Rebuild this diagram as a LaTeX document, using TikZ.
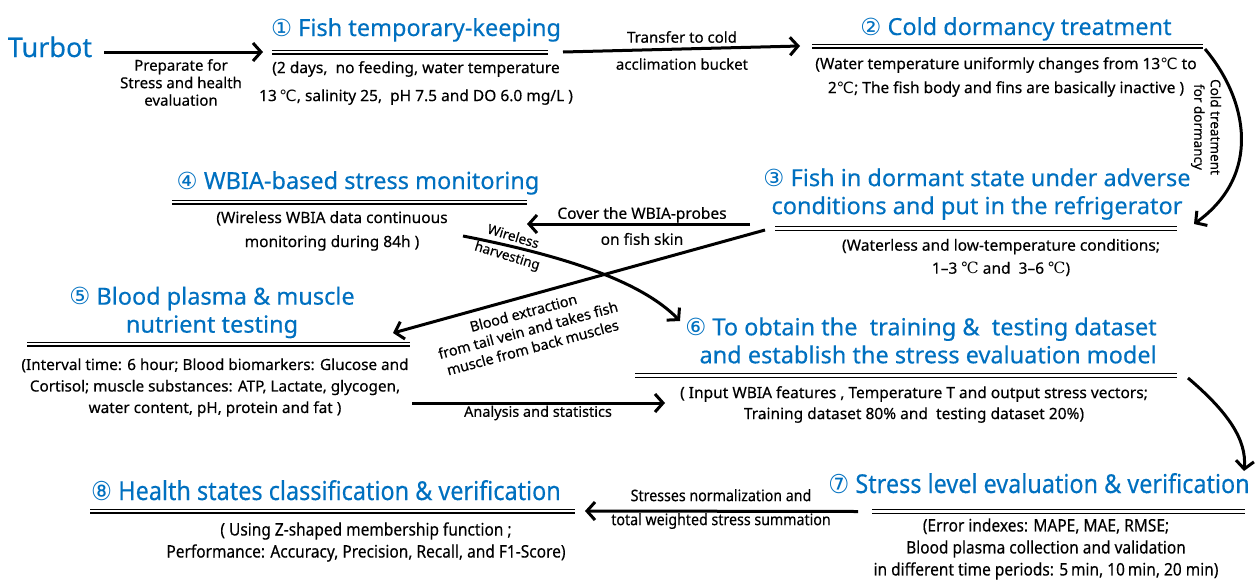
\documentclass[tikz,border=0pt]{standalone}
\usepackage{fontspec}
\setmainfont{Noto Sans}[FakeBold=0.35]
\newfontfamily\symf{DejaVu Sans}
\newfontfamily\serf{DejaVu Serif}
\newfontfamily\condf{Noto Sans}[FakeStretch=0.9,FakeBold=0.3]
\newfontfamily\condsym{DejaVu Sans}[FakeStretch=0.9]
\usetikzlibrary{arrows.meta}
\definecolor{tblue}{RGB}{0,112,192}
\newcommand\cnum[1]{{\symf #1}}
\newcommand\degc{{\symf ℃}}
\newcommand\degs{{\serf ℃}}
\begin{document}
\begin{tikzpicture}[x=1pt,y=-1pt,
  title/.style={text=tblue,font=\fontsize{23.5}{28}\selectfont,inner sep=0pt,align=center},
  ctitle/.style={text=tblue,font=\condf\fontsize{26}{28}\selectfont,inner sep=0pt,align=center},
  desc/.style={inner sep=0pt,align=center},
  elab/.style={inner sep=0pt,align=center},
  arr/.style={line width=3pt,-{Straight Barb[length=8pt,width=18pt]}},
  uline/.style={double,double distance=2.2pt,line width=1.4pt}]
\useasboundingbox (0,0) rectangle (1259,579);

% ---- titles
\node[title,font=\fontsize{27}{30}\selectfont,anchor=base] (t0) at (50,57) {Turbot};
\node[title,anchor=base] (h1) at (416,36) {\cnum{①} Fish temporary-keeping};
\node[title,anchor=base] (h2) at (1016,35) {\cnum{②} Cold dormancy treatment};
\node[title] (h3) at (977,194) {\cnum{③} Fish in dormant state under adverse\\conditions and put in the refrigerator};
\node[title,anchor=base] (h4) at (358,189) {\cnum{④} WBIA-based stress monitoring};
\node[title] (h5) at (212,312.5) {\cnum{⑤} Blood plasma \& muscle\\nutrient testing};
\node[title,align=right] (h6) at (921,340.5) {\cnum{⑥} To obtain the\ \ training \&\ \ testing dataset\\and establish the stress evaluation model};
\node[ctitle,anchor=base] (h7) at (1039,493) {{\condsym ⑦} Stress level evaluation \& verification};
\node[ctitle,anchor=base] (h8) at (326,500) {{\condsym ⑧} Health states classification \& verification};

% ---- underlines
\coordinate (u1l) at (272,52); \coordinate (u1r) at (548,52);
\coordinate (u2l) at (812,46); \coordinate (u2r) at (1203,46);
\coordinate (u3l) at (775,228.5); \coordinate (u3r) at (1177,228.5);
\coordinate (u4l) at (172,202); \coordinate (u4r) at (527,202);
\coordinate (u5l) at (27,344); \coordinate (u5r) at (410,344);
\coordinate (u6l) at (635,375.5); \coordinate (u6r) at (1177,375.5);
\coordinate (u7l) at (872,511.5); \coordinate (u7r) at (1245,511.5);
\coordinate (u8l) at (90,511); \coordinate (u8r) at (575,511);
\foreach \i in {1,...,8} {\draw[uline] (u\i l) -- (u\i r);}

% ---- descriptions
\node[desc,font=\fontsize{15.5}{28}\selectfont] (d1) at (416,83)
  {(2 days,\ \ no feeding, water temperature\\13\,\degc, salinity 25,\ \ pH 7.5 and DO 6.0 mg/L )};
\node[desc,font=\fontsize{15.5}{24}\selectfont] (d2) at (1006,77)
  {(Water temperature uniformly changes from 13\degc\ to\\2\degc; The fish body and fins are basically inactive )};
\node[desc,font=\fontsize{15.5}{23}\selectfont] (d3) at (1001,257.5)
  {(Waterless and low-temperature conditions;\\\textbf{1–3} \degs\ and\ \ \textbf{3–6} \degs)};
\node[desc,font=\fontsize{15.5}{24}\selectfont] (d4) at (332,231)
  {(Wireless WBIA data continuous\\monitoring during 84h )};
\node[desc,font=\fontsize{15.3}{21.5}\selectfont] (d5) at (215,387.5)
  {(Interval time: 6 hour; Blood biomarkers: Glucose and\\Cortisol; muscle substances: ATP, Lactate, glycogen,\\water content, pH, protein and fat )};
\node[desc,font=\fontsize{15.5}{21}\selectfont] (d6) at (914,404.5)
  {( Input WBIA features , Temperature T and output stress vectors;\\Training dataset 80\% and\ \ testing dataset 20\%)};
\node[desc,font=\condf\fontsize{17.2}{22}\selectfont] (d7) at (1046,549)
  {(Error indexes: MAPE, MAE, RMSE;\\Blood plasma collection and validation\\in different time periods: 5\,min, 10\,min, 20 min)};
\node[desc,font=\condf\fontsize{17.2}{22}\selectfont] (d8) at (366,542)
  {( Using Z-shaped membership function ;\\Performance: Accuracy, Precision, Recall, and F1-Score)};

% ---- connectors
\coordinate (a34s) at (750,224); \coordinate (a34e) at (527,224);
\coordinate (a56s) at (412,403); \coordinate (a56e) at (665,403);
\coordinate (a46s) at (463,236); \coordinate (a46e) at (680,321);
\coordinate (a35s) at (765,230); \coordinate (a35e) at (393,333);
\coordinate (a23e) at (1194,224); \coordinate (a67e) at (1244,471);
\draw[arr] ([xshift=12pt]t0.east |- u1l) -- ([xshift=-9pt]u1l);
\draw[arr] ([xshift=15pt]u1r) -- ([xshift=-12pt]u2l);
\draw[arr] ([xshift=2pt,yshift=-3pt]u2r) .. controls (1248,100) and (1262,175) .. (a23e);
\draw[arr] (a34s) -- (a34e);
\draw[arr] (a46s) .. controls (560,255) and (640,280) .. (a46e);
\draw[arr] (a35s) -- (a35e);
\draw[arr] (a56s) -- (a56e);
\draw[arr] ([xshift=11pt,yshift=-2.5pt]u6r) .. controls (1228,412) and (1247,440) .. (a67e);
\draw[arr] ([xshift=-14pt]u7l) -- ([xshift=10pt]u8r);

% ---- connector labels
\node[elab,font=\fontsize{15}{17.5}\selectfont] (l01) at (181,82.5) {Preparate for\\Stress and health\\evaluation};
\node[elab,font=\fontsize{15}{27}\selectfont] (l12) at (682,50.5) {Transfer to cold\\acclimation bucket};
\node[elab,font=\fontsize{13.5}{16.5}\selectfont,rotate=-90] (l23) at (1206,127) {Cold treatment\\for dormancy};
\node[elab,font=\fontsize{15.5}{26}\selectfont] (l34) at (642,226) {Cover the WBIA-probes\\on fish skin};
\node[elab,font=\fontsize{13.5}{20}\selectfont,rotate=-17] (l46) at (510,247) {Wireless\\harvesting};
\node[elab,font=\fontsize{14.3}{18}\selectfont,rotate=15] (l35) at (528,330) {Blood extraction\\from tail vein and takes fish\\muscle from back muscles};
\node[elab,font=\fontsize{14.5}{16}\selectfont] (l56) at (538,413) {Analysis and statistics};
\node[elab,font=\condf\fontsize{15.8}{24}\selectfont] (l78) at (721,509) {Stresses normalization and\\total weighted stress summation};
\end{tikzpicture}
\end{document}
